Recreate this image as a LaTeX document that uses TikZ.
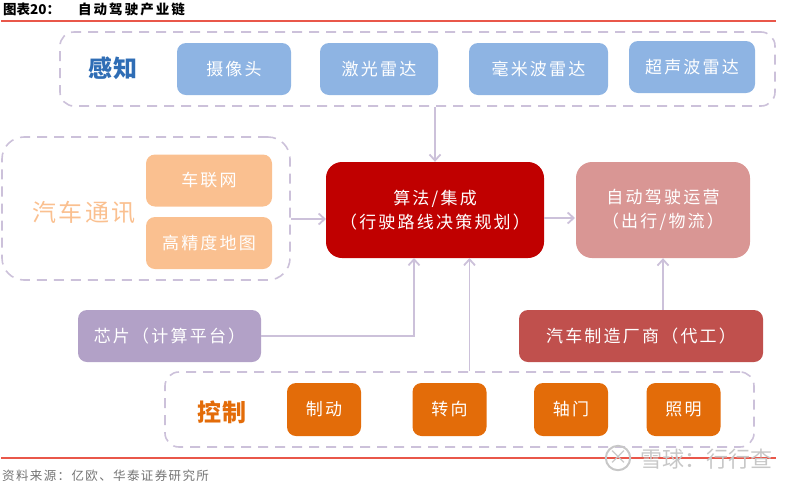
\documentclass[tikz,border=0pt]{standalone}
\usepackage{fontspec}
\setmainfont{Noto Sans CJK SC}
\usetikzlibrary{arrows.meta}
\definecolor{rulered}{HTML}{E9574A}
\definecolor{groupline}{HTML}{CCC1DA}
\definecolor{percblue}{HTML}{8EB4E3}
\definecolor{perctext}{HTML}{2F6DB5}
\definecolor{commorange}{HTML}{FAC090}
\definecolor{ctrlorange}{HTML}{E36C09}
\definecolor{algored}{HTML}{C00000}
\definecolor{opsred}{HTML}{D99694}
\definecolor{chippurple}{HTML}{B2A1C7}
\definecolor{oemred}{HTML}{C0504D}
\newcommand{\fsz}[2]{\fontsize{#1}{#2}\selectfont}
\newcommand{\lp}{\symbol{"FF08}}
\newcommand{\rp}{\symbol{"FF09}}
\newcommand{\cl}{\symbol{"FF1A}}
\tikzset{
  item/.style={rounded corners=9pt, text=white, inner sep=0pt,
    font=\fsz{17}{24}\addfontfeature{LetterSpace=13}, align=center},
  group/.style={draw=groupline, line width=1.6pt, dash pattern=on 10pt off 7pt,
    rounded corners=14pt, inner sep=0pt},
  heading/.style={inner sep=0pt, font=\fsz{24}{28}\bfseries\addfontfeature{LetterSpace=6}},
  link/.style={draw=groupline, line width=1.8pt, -{Straight Barb[length=6pt,width=11pt]}},
  pitem/.style={item, fill=percblue, minimum height=52pt},
  citem/.style={item, fill=commorange, minimum width=126pt, minimum height=52pt},
  oitem/.style={item, fill=ctrlorange, minimum width=74pt, minimum height=53pt},
}
\begin{document}
\begin{tikzpicture}[x=1pt, y=-1pt]
  \useasboundingbox (0,0) rectangle (800,483);
  % title and rules
  \node[anchor=west, inner sep=0pt, font=\fsz{13.5}{16}\bfseries] (fignum) at (3,9) {图表20\cl};
  \node[anchor=west, inner sep=0pt, font=\fsz{13.5}{16}\bfseries\addfontfeature{LetterSpace=15}] (figtitle) at (78,9) {自动驾驶产业链};
  \coordinate (topl) at (1,21);
  \coordinate (topr) at (776,21);
  \coordinate (botl) at (1,458);
  \coordinate (botr) at (776,458);
  \draw[rulered, line width=1.2pt] (topl) -- (topr);
  \draw[rulered, line width=1.2pt] (botl) -- (botr);
  % perception
  \node[group, minimum width=715pt, minimum height=74pt] (perc) at (417.5,69) {};
  \node[heading, text=perctext] (perctitle) at (113,68.5) {感知};
  \node[pitem, minimum width=114pt] (camera) at (234,69) {摄像头};
  \node[pitem, minimum width=118pt] (lidar) at (379,69) {激光雷达};
  \node[pitem, minimum width=139pt] (mmwave) at (538.5,69) {毫米波雷达};
  \node[pitem, minimum width=126pt] (ultra) at (692,67) {超声波雷达};
  % communication
  \node[group, rounded corners=22pt, minimum width=288pt, minimum height=143pt] (comm) at (146,208.5) {};
  \node[heading, text=commorange, font=\fsz{24}{28}\addfontfeature{LetterSpace=10}] (commtitle) at (84,212) {汽车通讯};
  \node[citem] (carnet) at (209,180.5) {车联网};
  \node[citem] (hdmap) at (209,243) {高精度地图};
  % centre
  \node[item, fill=algored, rounded corners=16pt, minimum width=218pt, minimum height=96pt] (algo) at (435,210) {算法/集成\\\lp 行驶路线决策规划\rp};
  \node[item, fill=opsred, rounded corners=16pt, minimum width=174pt, minimum height=96pt] (ops) at (663,210) {自动驾驶运营\\\lp 出行/物流\rp};
  % lower row
  \node[item, fill=chippurple, minimum width=183pt, minimum height=52pt] (chip) at (169.5,336) {芯片\lp 计算平台\rp};
  \node[item, fill=oemred, minimum width=244pt, minimum height=52pt] (oem) at (641,336) {汽车制造厂商\lp 代工\rp};
  % control
  \node[group, minimum width=589pt, minimum height=75pt] (ctrl) at (459.5,409.5) {};
  \node[heading, text=ctrlorange] (ctrltitle) at (222,412) {控制};
  \node[oitem] (brake) at (324,409.5) {制动};
  \node[oitem] (steer) at (449.5,409.5) {转向};
  \node[oitem] (axle) at (571,409.5) {轴门};
  \node[oitem] (light) at (683.5,409.5) {照明};
  % connectors
  \coordinate (commin) at (326,219);
  \coordinate (chipin) at (414,258);
  \coordinate (ctrlin) at (469.5,258);
  \coordinate (opsin) at (575,218);
  \draw[link] (perc.south -| algo.north) -- (algo.north);
  \draw[link] (comm.east |- commin) -- (commin);
  \draw[link] (algo.east |- opsin) -- (opsin);
  \draw[link] (chip.east) -| (chipin);
  \draw[link] (ctrl.north -| ctrlin) -- (ctrlin);
  \draw[link] (ops.south |- oem.north) -- (ops.south);
  % source
  \node[anchor=west, inner sep=0pt, text=black!55, font=\fsz{12.5}{15}\addfontfeature{LetterSpace=11}] (source) at (2,476) {资料来源\cl 亿欧、华泰证券研究所};
  % mark
  \node[circle, draw=black!22, line width=2pt, minimum size=24pt, inner sep=0pt, text=black!22, font=\fsz{20}{22}] (marklogo) at (618,458) {×};
  \node[anchor=west, inner sep=0pt, text=black!22, font=\fsz{22}{26}] (marktext) at (640,459) {雪球\cl 行行查};
\end{tikzpicture}
\end{document}
